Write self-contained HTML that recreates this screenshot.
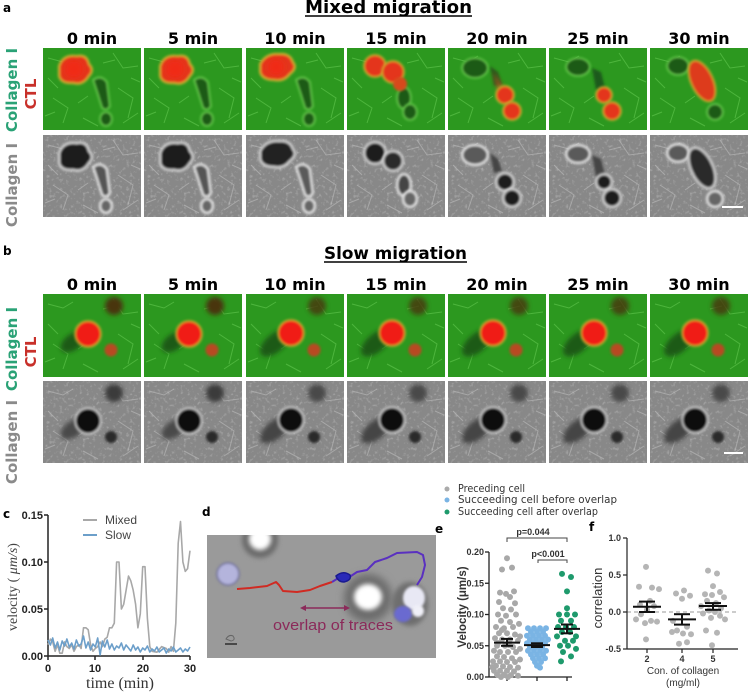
<!DOCTYPE html>
<html><head><meta charset="utf-8"><style>
html,body{margin:0;padding:0;background:#fff;}
svg{display:block;}
.t{font-family:"DejaVu Sans","Liberation Sans",sans-serif;font-weight:bold;}
.s{font-family:"Liberation Sans",sans-serif;}
.sf{font-family:"Liberation Serif",serif;}
</style></head><body>
<svg width="748" height="692" viewBox="0 0 748 692" xmlns="http://www.w3.org/2000/svg" xmlns:xlink="http://www.w3.org/1999/xlink">
<defs>
<filter id="b1" x="-50%" y="-50%" width="200%" height="200%"><feGaussianBlur stdDeviation="1.2"/></filter>
<filter id="b2" x="-50%" y="-50%" width="200%" height="200%"><feGaussianBlur stdDeviation="2.5"/></filter>
<filter id="b4" x="-50%" y="-50%" width="200%" height="200%"><feGaussianBlur stdDeviation="4"/></filter>
<filter id="nz" x="0" y="0" width="100%" height="100%"><feTurbulence type="fractalNoise" baseFrequency="0.3" numOctaves="2" seed="5"/><feColorMatrix type="matrix" values="0 0 0 0 1  0 0 0 0 1  0 0 0 0 1  0 0 0 2.2 -1.2"/></filter>
<g id="gf" fill="none" stroke="#5cc24a" stroke-width="1" opacity="0.7">
<path d="M5 10 L20 14 L30 8"/><path d="M70 5 L80 20 L95 18"/><path d="M10 50 L25 60 L20 75"/><path d="M40 70 L55 78"/><path d="M75 40 L90 50 L85 70"/><path d="M5 30 L15 40"/><path d="M60 15 L72 12"/><path d="M35 55 L45 48"/><path d="M80 75 L95 65"/><path d="M2 68 L12 64"/><path d="M88 30 L97 34"/>
</g>
<g id="wf">
<rect width="98" height="83" filter="url(#nz)" opacity="0.35"/>
<g fill="none" stroke="#bdbdbd" stroke-width="1" opacity="0.6">
<path d="M5 10 L20 14 L30 8"/><path d="M70 5 L80 20 L95 18"/><path d="M10 50 L25 60 L20 75"/><path d="M40 70 L55 78"/><path d="M75 40 L90 50 L85 70"/><path d="M5 30 L15 40"/><path d="M60 15 L72 12"/><path d="M35 55 L45 48"/><path d="M80 75 L95 65"/><path d="M2 68 L12 64"/><path d="M88 30 L97 34"/>
</g>
</g>
<g id="gm0">
<path d="M50 32 Q58 26 64 34 L67 58 Q64 64 59 60 L54 44 Z" fill="#1b5a18" stroke="#6ad050" stroke-width="1.5" filter="url(#b1)"/>
<ellipse cx="63" cy="71" rx="6" ry="7" fill="#1b5a18" stroke="#6ad050" stroke-width="1.5" filter="url(#b1)"/>
<path d="M16 18 Q20 6 34 8 Q44 6 46 16 Q52 22 46 28 Q40 38 30 35 Q18 36 16 28 Z" fill="#e4361c" stroke="#d4b030" stroke-width="2" filter="url(#b1)"/>
<circle cx="31" cy="21" r="9" fill="#f02a18" filter="url(#b2)"/>
</g>
<g id="gm10">
<path d="M50 32 Q58 26 64 34 L67 58 Q64 64 59 60 L54 44 Z" fill="#1b5a18" stroke="#6ad050" stroke-width="1.5" filter="url(#b1)"/>
<ellipse cx="63" cy="71" rx="6" ry="7" fill="#1b5a18" stroke="#6ad050" stroke-width="1.5" filter="url(#b1)"/>
<path d="M14 16 Q20 5 33 6 Q44 5 47 14 Q52 20 44 26 Q38 34 28 32 Q16 32 14 24 Z" fill="#e4361c" stroke="#d4b030" stroke-width="2" filter="url(#b1)"/>
<circle cx="30" cy="19" r="8" fill="#f02a18" filter="url(#b2)"/>
</g>
<g id="gm15">
<ellipse cx="57" cy="50" rx="7" ry="11" fill="#1b5a18" stroke="#6ad050" stroke-width="1.5" filter="url(#b1)"/>
<ellipse cx="63" cy="64" rx="7" ry="8" fill="#1b5a18" stroke="#6ad050" stroke-width="1.5" filter="url(#b1)"/>
<circle cx="28" cy="18" r="11" fill="#e4361c" stroke="#d4b030" stroke-width="1.5" filter="url(#b1)"/>
<circle cx="46" cy="24" r="11" fill="#e4361c" stroke="#d4b030" stroke-width="1.5" filter="url(#b1)"/>
<circle cx="53" cy="36" r="7" fill="#d8481e" filter="url(#b1)"/>
</g>
<g id="gm20">
<ellipse cx="27" cy="20" rx="13" ry="10" fill="#1b5a18" stroke="#6ad050" stroke-width="1.5" filter="url(#b1)"/>
<path d="M42 18 L50 24 L54 36 L46 38 Z" fill="#2a5a1c" filter="url(#b1)"/>
<path d="M45 24 L56 40 L50 44 Z" fill="#b85020" opacity="0.8" filter="url(#b2)"/>
<circle cx="57" cy="47" r="9" fill="#e4361c" stroke="#d4b030" stroke-width="1.5" filter="url(#b1)"/>
<circle cx="64" cy="63" r="9" fill="#e4361c" stroke="#d4b030" stroke-width="1.5" filter="url(#b1)"/>
</g>
<g id="gm25">
<ellipse cx="29" cy="19" rx="12" ry="9" fill="#1b5a18" stroke="#6ad050" stroke-width="1.5" filter="url(#b1)"/>
<path d="M43 20 L52 24 L56 40 L47 42 Z" fill="#1f5a1a" filter="url(#b1)"/>
<circle cx="55" cy="47" r="8" fill="#e4361c" stroke="#d4b030" stroke-width="1.5" filter="url(#b1)"/>
<circle cx="63" cy="63" r="9" fill="#e4361c" stroke="#d4b030" stroke-width="1.5" filter="url(#b1)"/>
</g>
<g id="gm30">
<ellipse cx="28" cy="18" rx="11" ry="9" fill="#1b5a18" stroke="#6ad050" stroke-width="1.5" filter="url(#b1)"/>
<ellipse cx="52" cy="33" rx="11" ry="22" transform="rotate(-25 52 33)" fill="#dd3a1c" stroke="#d4b030" stroke-width="1.5" filter="url(#b1)"/>
<ellipse cx="65" cy="64" rx="8" ry="8" fill="#1b5a18" stroke="#6ad050" stroke-width="1.5" filter="url(#b1)"/>
</g>
<g id="wm0">
<path d="M50 32 Q58 26 64 34 L67 58 Q64 64 59 60 L54 44 Z" fill="#555" stroke="#eee" stroke-width="2" filter="url(#b1)"/>
<ellipse cx="63" cy="71" rx="6" ry="7" fill="#666" stroke="#eee" stroke-width="2" filter="url(#b1)"/>
<path d="M16 18 Q20 6 34 8 Q44 6 46 16 Q52 22 46 28 Q40 38 30 35 Q18 36 16 28 Z" fill="#1e1e1e" stroke="#ddd" stroke-width="2" filter="url(#b1)"/>
</g>
<g id="wm10">
<path d="M50 32 Q58 26 64 34 L67 58 Q64 64 59 60 L54 44 Z" fill="#5a5a5a" stroke="#eee" stroke-width="2" filter="url(#b1)"/>
<ellipse cx="63" cy="71" rx="6" ry="7" fill="#666" stroke="#eee" stroke-width="2" filter="url(#b1)"/>
<path d="M14 16 Q20 5 33 6 Q44 5 47 14 Q52 20 44 26 Q38 34 28 32 Q16 32 14 24 Z" fill="#222" stroke="#ddd" stroke-width="2" filter="url(#b1)"/>
</g>
<g id="wm15">
<ellipse cx="57" cy="50" rx="7" ry="11" fill="#444" stroke="#eee" stroke-width="2" filter="url(#b1)"/>
<ellipse cx="63" cy="64" rx="7" ry="8" fill="#666" stroke="#eee" stroke-width="2" filter="url(#b1)"/>
<circle cx="28" cy="18" r="11" fill="#1e1e1e" stroke="#ddd" stroke-width="2" filter="url(#b1)"/>
<circle cx="46" cy="26" r="10" fill="#2a2a2a" stroke="#ddd" stroke-width="2" filter="url(#b1)"/>
</g>
<g id="wm20">
<ellipse cx="27" cy="20" rx="13" ry="10" fill="#5a5a5a" stroke="#eee" stroke-width="2" filter="url(#b1)"/>
<path d="M42 18 L50 24 L54 36 L46 38 Z" fill="#444" filter="url(#b1)"/>
<circle cx="57" cy="47" r="9" fill="#1a1a1a" stroke="#ddd" stroke-width="2" filter="url(#b1)"/>
<circle cx="64" cy="63" r="9" fill="#1a1a1a" stroke="#ddd" stroke-width="2" filter="url(#b1)"/>
</g>
<g id="wm25">
<ellipse cx="29" cy="19" rx="12" ry="9" fill="#5a5a5a" stroke="#eee" stroke-width="2" filter="url(#b1)"/>
<path d="M43 20 L52 24 L56 40 L47 42 Z" fill="#444" filter="url(#b1)"/>
<circle cx="55" cy="47" r="8" fill="#1a1a1a" stroke="#ddd" stroke-width="2" filter="url(#b1)"/>
<circle cx="63" cy="63" r="9" fill="#1a1a1a" stroke="#ddd" stroke-width="2" filter="url(#b1)"/>
</g>
<g id="wm30">
<ellipse cx="28" cy="18" rx="11" ry="9" fill="#5a5a5a" stroke="#eee" stroke-width="2" filter="url(#b1)"/>
<ellipse cx="52" cy="33" rx="11" ry="22" transform="rotate(-25 52 33)" fill="#2a2a2a" stroke="#ddd" stroke-width="2" filter="url(#b1)"/>
<ellipse cx="65" cy="64" rx="8" ry="8" fill="#666" stroke="#eee" stroke-width="2" filter="url(#b1)"/>
</g>
<g id="gs0">
<circle cx="71" cy="12" r="9" fill="#4a3510" filter="url(#b2)"/>
<ellipse cx="30" cy="48" rx="14" ry="8" transform="rotate(-35 30 48)" fill="#1b5a18" filter="url(#b2)"/>
<circle cx="45" cy="40" r="13" fill="#f01e14" stroke="#c8b030" stroke-width="1.5" filter="url(#b1)"/>
<circle cx="68" cy="56" r="6.5" fill="#b84a20" filter="url(#b1)"/>
</g>
<g id="gs1">
<circle cx="71" cy="12" r="9" fill="#4a3510" opacity="0.8" filter="url(#b2)"/>
<ellipse cx="29" cy="49" rx="18" ry="9" transform="rotate(-40 29 49)" fill="#1b5a18" filter="url(#b2)"/>
<circle cx="45" cy="39" r="13" fill="#f01e14" stroke="#c8b030" stroke-width="1.5" filter="url(#b1)"/>
<circle cx="68" cy="56" r="6.5" fill="#b84a20" filter="url(#b1)"/>
</g>
<g id="ws0">
<circle cx="71" cy="12" r="9" fill="#3a3a3a" filter="url(#b2)"/>
<ellipse cx="30" cy="48" rx="14" ry="8" transform="rotate(-35 30 48)" fill="#4a4a4a" filter="url(#b2)"/>
<circle cx="45" cy="40" r="13" fill="#0e0e0e" stroke="#ddd" stroke-width="1.5" filter="url(#b1)"/>
<circle cx="68" cy="56" r="6" fill="#2a2a2a" filter="url(#b1)"/>
</g>
<g id="ws1">
<circle cx="71" cy="12" r="9" fill="#4a4a4a" filter="url(#b2)"/>
<ellipse cx="29" cy="49" rx="18" ry="9" transform="rotate(-40 29 49)" fill="#444" filter="url(#b2)"/>
<circle cx="45" cy="39" r="13" fill="#0e0e0e" stroke="#ddd" stroke-width="1.5" filter="url(#b1)"/>
<circle cx="68" cy="56" r="6" fill="#2a2a2a" filter="url(#b1)"/>
</g>
</defs>

<!-- ===== Panel a ===== -->
<text x="3" y="12" class="t" font-size="12">a</text>
<text x="305" y="13" class="t" font-size="18" textLength="167" lengthAdjust="spacingAndGlyphs">Mixed migration</text>
<line x1="305" y1="16" x2="472" y2="16" stroke="#000" stroke-width="1.5"/>
<g class="t" font-size="16" text-anchor="middle">
<text x="92" y="44">0 min</text><text x="193" y="44">5 min</text><text x="295" y="44">10 min</text><text x="396" y="44">15 min</text><text x="497" y="44">20 min</text><text x="598" y="44">25 min</text><text x="699" y="44">30 min</text>
</g>
<g class="t" font-size="15" text-anchor="middle">
<text transform="translate(17,90) rotate(-90)" fill="#2aa276">Collagen I</text>
<text transform="translate(36,94) rotate(-90)" fill="#c8302a">CTL</text>
<text transform="translate(17,185) rotate(-90)" fill="#8a8a8a">Collagen I</text>
</g>
<svg x="43" y="48" width="98" height="82" viewBox="0 0 98 82"><rect width="98" height="82" fill="#2c981f"/><use href="#gf"/><use href="#gm0"/></svg>
<svg x="144" y="48" width="98" height="82" viewBox="0 0 98 82"><rect width="98" height="82" fill="#2c981f"/><use href="#gf"/><use href="#gm0"/></svg>
<svg x="246" y="48" width="98" height="82" viewBox="0 0 98 82"><rect width="98" height="82" fill="#2c981f"/><use href="#gf"/><use href="#gm10"/></svg>
<svg x="347" y="48" width="98" height="82" viewBox="0 0 98 82"><rect width="98" height="82" fill="#2c981f"/><use href="#gf"/><use href="#gm15"/></svg>
<svg x="448" y="48" width="98" height="82" viewBox="0 0 98 82"><rect width="98" height="82" fill="#2c981f"/><use href="#gf"/><use href="#gm20"/></svg>
<svg x="549" y="48" width="98" height="82" viewBox="0 0 98 82"><rect width="98" height="82" fill="#2c981f"/><use href="#gf"/><use href="#gm25"/></svg>
<svg x="650" y="48" width="98" height="82" viewBox="0 0 98 82"><rect width="98" height="82" fill="#2c981f"/><use href="#gf"/><use href="#gm30"/></svg>
<svg x="43" y="135" width="98" height="82" viewBox="0 0 98 82"><rect width="98" height="82" fill="#888"/><use href="#wf"/><use href="#wm0"/></svg>
<svg x="144" y="135" width="98" height="82" viewBox="0 0 98 82"><rect width="98" height="82" fill="#888"/><use href="#wf"/><use href="#wm0"/></svg>
<svg x="246" y="135" width="98" height="82" viewBox="0 0 98 82"><rect width="98" height="82" fill="#888"/><use href="#wf"/><use href="#wm10"/></svg>
<svg x="347" y="135" width="98" height="82" viewBox="0 0 98 82"><rect width="98" height="82" fill="#888"/><use href="#wf"/><use href="#wm15"/></svg>
<svg x="448" y="135" width="98" height="82" viewBox="0 0 98 82"><rect width="98" height="82" fill="#888"/><use href="#wf"/><use href="#wm20"/></svg>
<svg x="549" y="135" width="98" height="82" viewBox="0 0 98 82"><rect width="98" height="82" fill="#888"/><use href="#wf"/><use href="#wm25"/></svg>
<svg x="650" y="135" width="98" height="82" viewBox="0 0 98 82"><rect width="98" height="82" fill="#888"/><use href="#wf"/><use href="#wm30"/></svg>
<line x1="722" y1="207" x2="743" y2="207" stroke="#fff" stroke-width="2"/>

<!-- ===== Panel b ===== -->
<text x="3" y="255" class="t" font-size="12">b</text>
<text x="324" y="259" class="t" font-size="17" textLength="143" lengthAdjust="spacingAndGlyphs">Slow migration</text>
<line x1="324" y1="262" x2="467" y2="262" stroke="#000" stroke-width="1.5"/>
<g class="t" font-size="16" text-anchor="middle">
<text x="92" y="290">0 min</text><text x="193" y="290">5 min</text><text x="295" y="290">10 min</text><text x="396" y="290">15 min</text><text x="497" y="290">20 min</text><text x="598" y="290">25 min</text><text x="699" y="290">30 min</text>
</g>
<g class="t" font-size="15" text-anchor="middle">
<text transform="translate(17,349) rotate(-90)" fill="#2aa276">Collagen I</text>
<text transform="translate(36,352) rotate(-90)" fill="#c8302a">CTL</text>
<text transform="translate(17,442) rotate(-90)" fill="#8a8a8a">Collagen I</text>
</g>
<svg x="43" y="294" width="98" height="83" viewBox="0 0 98 83"><rect width="98" height="83" fill="#2c981f"/><use href="#gf"/><use href="#gs0"/></svg>
<svg x="144" y="294" width="98" height="83" viewBox="0 0 98 83"><rect width="98" height="83" fill="#2c981f"/><use href="#gf"/><use href="#gs0"/></svg>
<svg x="246" y="294" width="98" height="83" viewBox="0 0 98 83"><rect width="98" height="83" fill="#2c981f"/><use href="#gf"/><use href="#gs1"/></svg>
<svg x="347" y="294" width="98" height="83" viewBox="0 0 98 83"><rect width="98" height="83" fill="#2c981f"/><use href="#gf"/><use href="#gs1"/></svg>
<svg x="448" y="294" width="98" height="83" viewBox="0 0 98 83"><rect width="98" height="83" fill="#2c981f"/><use href="#gf"/><use href="#gs1"/></svg>
<svg x="549" y="294" width="98" height="83" viewBox="0 0 98 83"><rect width="98" height="83" fill="#2c981f"/><use href="#gf"/><use href="#gs1"/></svg>
<svg x="650" y="294" width="98" height="83" viewBox="0 0 98 83"><rect width="98" height="83" fill="#2c981f"/><use href="#gf"/><use href="#gs1"/></svg>
<svg x="43" y="381" width="98" height="82" viewBox="0 0 98 82"><rect width="98" height="82" fill="#888"/><use href="#wf"/><use href="#ws0"/></svg>
<svg x="144" y="381" width="98" height="82" viewBox="0 0 98 82"><rect width="98" height="82" fill="#888"/><use href="#wf"/><use href="#ws0"/></svg>
<svg x="246" y="381" width="98" height="82" viewBox="0 0 98 82"><rect width="98" height="82" fill="#888"/><use href="#wf"/><use href="#ws1"/></svg>
<svg x="347" y="381" width="98" height="82" viewBox="0 0 98 82"><rect width="98" height="82" fill="#888"/><use href="#wf"/><use href="#ws1"/></svg>
<svg x="448" y="381" width="98" height="82" viewBox="0 0 98 82"><rect width="98" height="82" fill="#888"/><use href="#wf"/><use href="#ws1"/></svg>
<svg x="549" y="381" width="98" height="82" viewBox="0 0 98 82"><rect width="98" height="82" fill="#888"/><use href="#wf"/><use href="#ws1"/></svg>
<svg x="650" y="381" width="98" height="82" viewBox="0 0 98 82"><rect width="98" height="82" fill="#888"/><use href="#wf"/><use href="#ws1"/></svg>
<line x1="724" y1="453" x2="743" y2="453" stroke="#fff" stroke-width="2"/>

<!-- ===== Panel c ===== -->
<text x="3" y="518" class="t" font-size="12">c</text>
<g stroke="#222" stroke-width="1.5" fill="none">
<line x1="48" y1="515" x2="48" y2="656"/>
<line x1="48" y1="656" x2="190" y2="656"/>
<line x1="44" y1="515" x2="48" y2="515"/><line x1="44" y1="562" x2="48" y2="562"/><line x1="44" y1="609" x2="48" y2="609"/><line x1="44" y1="656" x2="48" y2="656"/>
<line x1="48" y1="656" x2="48" y2="660"/><line x1="95" y1="656" x2="95" y2="660"/><line x1="143" y1="656" x2="143" y2="660"/><line x1="190" y1="656" x2="190" y2="660"/>
</g>
<g class="s" font-size="11" font-weight="bold" fill="#222" text-anchor="end">
<text x="43" y="519">0.15</text><text x="43" y="566">0.10</text><text x="43" y="613">0.05</text><text x="43" y="660">0.00</text>
</g>
<g class="s" font-size="11" font-weight="bold" fill="#222" text-anchor="middle">
<text x="48" y="672">0</text><text x="95" y="672">10</text><text x="143" y="672">20</text><text x="190" y="672">30</text>
</g>
<text x="120" y="688" class="sf" font-size="16" text-anchor="middle" fill="#333">time (min)</text>
<text transform="translate(17,587) rotate(-90)" class="sf" font-size="14" text-anchor="middle" fill="#444">velocity ( <tspan font-style="italic">μm/s</tspan>)</text>
<line x1="83" y1="520" x2="97" y2="520" stroke="#a8a8a8" stroke-width="2"/>
<text x="105" y="524" class="s" font-size="12" fill="#444">Mixed</text>
<line x1="83" y1="535" x2="97" y2="535" stroke="#6c9fca" stroke-width="2"/>
<text x="105" y="539" class="s" font-size="12" fill="#444">Slow</text>
<polyline fill="none" stroke="#a8a8a8" stroke-width="1.6" stroke-linejoin="round" points="48,644.7 50.4,639.1 52.7,641.9 55.1,651.3 57.5,644.7 59.8,653.2 62.2,653.2 64.6,641.9 66.9,646.6 69.3,648.5 71.7,644.7 74,651.3 76.4,646.6 78.8,644.7 81.1,648.5 83.5,627.8 85.9,627.8 88.2,629.7 90.6,644.7 93,651.3 95.3,648.5 97.7,646.6 100.1,641.9 102.4,646.6 104.8,639.1 107.2,637.2 109.5,627.8 111.9,627.8 114.3,623.1 116.6,562 119,562 121.4,609 123.7,604.3 126.1,590.2 128.5,576.1 130.8,580.8 133.2,590.2 135.6,604.3 137.9,627.8 140.3,613.7 142.7,566.7 145,566.7 147.4,618.4 149.8,646.6 152.1,651.3 156.9,652.2 161.6,646.6 166.3,648.5 168.7,652.2 171.1,646.6 173.4,651.3 175.8,623.1 178.2,543.2 180.5,521.6 182.9,562 185.3,571.4 187.6,568.6 190,550.7"/>
<polyline fill="none" stroke="#6c9fca" stroke-width="1.6" stroke-linejoin="round" points="48,640 50.4,645 52.7,638 55.1,648 57.5,642 59.8,650 62.2,641 64.6,646 66.9,639 69.3,647 71.7,643 74,649 76.4,640 78.8,646 81.1,644 83.5,636 85.9,648 88.2,642 90.6,650 93,644 95.3,647 97.7,638 100.1,655 102.4,641 104.8,647 107.2,640 109.5,649 111.9,644 114.3,650 116.6,646 119,648 121.4,643 123.7,650 126.1,645 128.5,648 130.8,651 133.2,645 135.6,650 137.9,647 140.3,652 142.7,648 145,650 147.4,646 149.8,652 152.1,649 154.5,651 156.9,647 159.2,652 161.6,650 164,648 166.3,653 168.7,649 171.1,651 173.4,647 175.8,652 178.2,650 180.5,648 182.9,652 185.3,649 187.6,651 190,647"/>

<!-- ===== Panel d ===== -->
<text x="202" y="516" class="t" font-size="12">d</text>
<svg x="207" y="535" width="229" height="123" viewBox="207 535 229 123">
<rect x="207" y="535" width="229" height="123" fill="#9a9a9a"/>
<circle cx="260" cy="540" r="18" fill="#6a6a6a" filter="url(#b2)"/>
<circle cx="260" cy="539" r="11" fill="#fff" filter="url(#b2)"/>
<circle cx="228" cy="574" r="11" fill="#b4b4dc" stroke="#6a6a9a" stroke-width="1.5" filter="url(#b1)"/>
<circle cx="368" cy="598" r="24" fill="#6c6c6c" filter="url(#b4)"/>
<ellipse cx="368" cy="597" rx="14" ry="13" fill="#fff" filter="url(#b2)"/>
<ellipse cx="410" cy="604" rx="18" ry="22" fill="#6e6e6e" filter="url(#b2)"/>
<ellipse cx="414" cy="598" rx="11" ry="12" fill="#e8e8f4" filter="url(#b1)"/>
<ellipse cx="403" cy="614" rx="9" ry="8" fill="#6a6ad0" filter="url(#b1)"/>
<ellipse cx="418" cy="611" rx="6" ry="6" fill="#f0f0f8" filter="url(#b1)"/>
<polyline fill="none" stroke="#d02a22" stroke-width="2" stroke-linejoin="round" points="237,589 250,588 267,586 276,582 279,585 283,591 297,592 310,590 320,586 332,582"/>
<polyline fill="none" stroke="#5a30c0" stroke-width="2" stroke-linejoin="round" points="332,582 340,577 348,578 357,572 367,570 375,562 387,558 397,553 417,552 423,555 425,565 422,577 417,585"/>
<path d="M336 576 Q343 570 350 575 Q352 580 344 582 Q338 582 336 576 Z" fill="#2a2ab8" stroke="#1a1a90" stroke-width="1.5"/>
<line x1="303" y1="608" x2="347" y2="608" stroke="#8b2a5a" stroke-width="1.5"/>
<polygon points="300,608 306,605 306,611" fill="#8b2a5a"/>
<polygon points="350,608 344,605 344,611" fill="#8b2a5a"/>
<text x="273" y="630" class="s" font-size="15" fill="#8b2a5a" textLength="120" lengthAdjust="spacingAndGlyphs">overlap of traces</text>
<path d="M226 639 Q229 634 233 636 Q236 640 231 641 Z" fill="none" stroke="#666" stroke-width="1"/>
<line x1="225" y1="644" x2="237" y2="644" stroke="#111" stroke-width="1.2"/>
</svg>

<!-- ===== Panel e ===== -->
<circle cx="447" cy="489" r="2.5" fill="#aaa"/>
<circle cx="447" cy="500" r="2.5" fill="#7ab4e4"/>
<circle cx="447" cy="512" r="2.5" fill="#1e9a6c"/>
<g font-family="'DejaVu Sans Condensed','DejaVu Sans',sans-serif" font-size="10.5" fill="#333">
<text x="458" y="492" textLength="67" lengthAdjust="spacingAndGlyphs">Preceding cell</text>
<text x="458" y="503" textLength="159" lengthAdjust="spacingAndGlyphs">Succeeding cell before overlap</text>
<text x="458" y="515" textLength="140" lengthAdjust="spacingAndGlyphs">Succeeding cell after overlap</text>
</g>
<text x="435" y="533" class="t" font-size="12">e</text>
<g stroke="#222" stroke-width="1.3" fill="none">
<line x1="489" y1="552" x2="489" y2="677"/>
<line x1="489" y1="677" x2="572" y2="677"/>
<line x1="485" y1="552" x2="489" y2="552"/><line x1="485" y1="583.25" x2="489" y2="583.25"/><line x1="485" y1="614.5" x2="489" y2="614.5"/><line x1="485" y1="645.75" x2="489" y2="645.75"/><line x1="485" y1="677" x2="489" y2="677"/>
<line x1="507" y1="677" x2="507" y2="681"/><line x1="537" y1="677" x2="537" y2="681"/><line x1="567" y1="677" x2="567" y2="681"/>
<path d="M507 542 L507 538 L567 538 L567 542" stroke="#444" stroke-width="1"/>
<path d="M538 563 L538 560 L567 560 L567 563" stroke="#444" stroke-width="1"/>
</g>
<g class="s" font-size="9" font-weight="bold" fill="#333" text-anchor="end">
<text x="484" y="555">0.20</text><text x="484" y="586.5">0.15</text><text x="484" y="617.5">0.10</text><text x="484" y="649">0.05</text><text x="484" y="680">0.00</text>
</g>
<text x="533" y="535" class="s" font-size="9" font-weight="bold" fill="#333" text-anchor="middle">p=0.044</text>
<text x="548" y="557" class="s" font-size="9" font-weight="bold" fill="#333" text-anchor="middle">p&lt;0.001</text>
<text transform="translate(466,607) rotate(-90)" class="s" font-size="11.5" font-weight="bold" fill="#333" text-anchor="middle">Velocity (μm/s)</text>
<g fill="#a8a8a8">
<circle cx="507" cy="558.3" r="3"/><circle cx="502" cy="569.5" r="3"/><circle cx="512" cy="567.6" r="3"/><circle cx="500" cy="592.6" r="3"/><circle cx="506" cy="593.9" r="3"/><circle cx="514" cy="591.4" r="3"/><circle cx="510" cy="597" r="3"/><circle cx="499" cy="602" r="3"/><circle cx="515" cy="603.3" r="3"/><circle cx="503" cy="608.3" r="3"/><circle cx="511" cy="609.5" r="3"/><circle cx="498" cy="614.5" r="3"/><circle cx="506" cy="615.8" r="3"/><circle cx="516" cy="614.5" r="3"/><circle cx="501" cy="620.8" r="3"/><circle cx="510" cy="622" r="3"/><circle cx="496" cy="627" r="3"/><circle cx="504" cy="628.3" r="3"/><circle cx="513" cy="627" r="3"/><circle cx="499" cy="633.3" r="3"/><circle cx="507" cy="633.3" r="3"/><circle cx="515" cy="634.5" r="3"/><circle cx="495" cy="638.3" r="3"/><circle cx="502" cy="639.5" r="3"/><circle cx="510" cy="639.5" r="3"/><circle cx="518" cy="640.8" r="3"/><circle cx="497" cy="645.8" r="3"/><circle cx="505" cy="645.8" r="3"/><circle cx="513" cy="647" r="3"/><circle cx="494" cy="650.8" r="3"/><circle cx="500" cy="652" r="3"/><circle cx="508" cy="652" r="3"/><circle cx="516" cy="652" r="3"/><circle cx="497" cy="656.4" r="3"/><circle cx="504" cy="657" r="3"/><circle cx="512" cy="658.3" r="3"/><circle cx="493" cy="661.4" r="3"/><circle cx="500" cy="661.4" r="3"/><circle cx="507" cy="662" r="3"/><circle cx="515" cy="662" r="3"/><circle cx="496" cy="665.8" r="3"/><circle cx="503" cy="666.4" r="3"/><circle cx="510" cy="667" r="3"/><circle cx="518" cy="667.6" r="3"/><circle cx="494" cy="670.8" r="3"/><circle cx="500" cy="670.8" r="3"/><circle cx="507" cy="670.8" r="3"/><circle cx="514" cy="671.4" r="3"/><circle cx="497" cy="674.5" r="3"/><circle cx="504" cy="674.5" r="3"/><circle cx="511" cy="675.1" r="3"/><circle cx="518" cy="675.8" r="3"/><circle cx="501" cy="677" r="3"/><circle cx="508" cy="677" r="3"/><circle cx="520" cy="659.5" r="3"/><circle cx="520" cy="648.9" r="3"/><circle cx="520" cy="636.4" r="3"/><circle cx="519" cy="623.9" r="3"/><circle cx="492" cy="667" r="3"/><circle cx="498" cy="643" r="3"/><circle cx="509" cy="645" r="3"/><circle cx="502" cy="630" r="3"/>
</g>
<g fill="#7ab4e4">
<circle cx="528" cy="628.3" r="3"/><circle cx="534" cy="628.3" r="3"/><circle cx="540" cy="628.3" r="3"/><circle cx="546" cy="628.3" r="3"/><circle cx="531" cy="632" r="3"/><circle cx="537" cy="632" r="3"/><circle cx="543" cy="632" r="3"/><circle cx="527" cy="635.8" r="3"/><circle cx="533" cy="635.8" r="3"/><circle cx="539" cy="635.8" r="3"/><circle cx="545" cy="635.8" r="3"/><circle cx="530" cy="639.5" r="3"/><circle cx="536" cy="639.5" r="3"/><circle cx="542" cy="639.5" r="3"/><circle cx="548" cy="639.5" r="3"/><circle cx="527" cy="643.3" r="3"/><circle cx="533" cy="643.3" r="3"/><circle cx="539" cy="643.3" r="3"/><circle cx="545" cy="643.3" r="3"/><circle cx="530" cy="647" r="3"/><circle cx="536" cy="647" r="3"/><circle cx="542" cy="647" r="3"/><circle cx="528" cy="650.8" r="3"/><circle cx="534" cy="650.8" r="3"/><circle cx="540" cy="650.8" r="3"/><circle cx="546" cy="650.8" r="3"/><circle cx="531" cy="654.5" r="3"/><circle cx="537" cy="654.5" r="3"/><circle cx="543" cy="654.5" r="3"/><circle cx="533" cy="658.3" r="3"/><circle cx="539" cy="658.3" r="3"/><circle cx="545" cy="658.3" r="3"/><circle cx="535" cy="662" r="3"/><circle cx="541" cy="662" r="3"/><circle cx="537" cy="665.8" r="3"/><circle cx="540" cy="667.6" r="3"/>
</g>
<g fill="#1e9a6c">
<circle cx="562" cy="573.9" r="3"/><circle cx="571" cy="577" r="3"/><circle cx="567" cy="591.4" r="3"/><circle cx="567" cy="608.3" r="3"/><circle cx="559" cy="614.5" r="3"/><circle cx="567" cy="614.5" r="3"/><circle cx="575" cy="614.5" r="3"/><circle cx="561" cy="620.8" r="3"/><circle cx="571" cy="620.8" r="3"/><circle cx="558" cy="627" r="3"/><circle cx="566" cy="627" r="3"/><circle cx="574" cy="627" r="3"/><circle cx="562" cy="632" r="3"/><circle cx="570" cy="632" r="3"/><circle cx="557" cy="636.4" r="3"/><circle cx="576" cy="636.4" r="3"/><circle cx="565" cy="640.8" r="3"/><circle cx="573" cy="640.8" r="3"/><circle cx="560" cy="645.8" r="3"/><circle cx="568" cy="645.8" r="3"/><circle cx="576" cy="648.9" r="3"/><circle cx="563" cy="652" r="3"/><circle cx="571" cy="656.4" r="3"/><circle cx="561" cy="661.4" r="3"/>
</g>
<g stroke="#111" stroke-width="2" fill="none">
<line x1="494" y1="642.6" x2="520" y2="642.6"/><line x1="501" y1="638.9" x2="513" y2="638.9"/><line x1="501" y1="645.8" x2="513" y2="645.8"/><line x1="507" y1="638.9" x2="507" y2="645.8"/>
<line x1="524" y1="645.1" x2="550" y2="645.1"/><line x1="531" y1="643.3" x2="543" y2="643.3"/><line x1="531" y1="647" x2="543" y2="647"/>
<line x1="554" y1="628.9" x2="580" y2="628.9"/><line x1="561" y1="624.5" x2="573" y2="624.5"/><line x1="561" y1="633.3" x2="573" y2="633.3"/><line x1="567" y1="624.5" x2="567" y2="633.3"/>
</g>

<!-- ===== Panel f ===== -->
<text x="589" y="531" class="t" font-size="12">f</text>
<line x1="627" y1="612" x2="738" y2="612" stroke="#999" stroke-width="1" stroke-dasharray="4,3"/>
<g stroke="#222" stroke-width="1.2" fill="none">
<line x1="627" y1="538" x2="627" y2="649"/>
<line x1="627" y1="649" x2="738" y2="649"/>
<line x1="623" y1="538" x2="627" y2="538"/><line x1="623" y1="575" x2="627" y2="575"/><line x1="623" y1="612" x2="627" y2="612"/><line x1="623" y1="649" x2="627" y2="649"/>
<line x1="647" y1="649" x2="647" y2="653"/><line x1="682" y1="649" x2="682" y2="653"/><line x1="713" y1="649" x2="713" y2="653"/>
</g>
<g class="s" font-size="9" font-weight="bold" fill="#333" text-anchor="end">
<text x="621" y="541">1.0</text><text x="621" y="578">0.5</text><text x="621" y="615">0.0</text><text x="621" y="652">-0.5</text>
</g>
<g class="s" font-size="9" font-weight="bold" fill="#333" text-anchor="middle">
<text x="647" y="662">2</text><text x="682" y="662">4</text><text x="713" y="662">5</text>
</g>
<text x="683" y="674" class="s" font-size="10" fill="#333" text-anchor="middle">Con. of collagen</text>
<text x="683" y="686" class="s" font-size="10" fill="#333" text-anchor="middle">(mg/ml)</text>
<text transform="translate(602,598) rotate(-90)" class="s" font-size="13" fill="#333" text-anchor="middle">correlation</text>
<g fill="#b5b5b5">
<circle cx="646" cy="566.9" r="3"/><circle cx="639" cy="586.8" r="3"/><circle cx="652" cy="587.6" r="3"/><circle cx="659" cy="589.1" r="3"/><circle cx="640" cy="604.6" r="3"/><circle cx="654" cy="606.1" r="3"/><circle cx="647" cy="609.8" r="3"/><circle cx="641" cy="614.2" r="3"/><circle cx="636" cy="619.4" r="3"/><circle cx="651" cy="620.9" r="3"/><circle cx="645" cy="623.1" r="3"/><circle cx="657" cy="621.6" r="3"/><circle cx="646" cy="639.4" r="3"/><circle cx="650" cy="600.9" r="3"/>
<circle cx="684" cy="590.5" r="3"/><circle cx="676" cy="593.5" r="3"/><circle cx="690" cy="595.7" r="3"/><circle cx="682" cy="598.7" r="3"/><circle cx="673" cy="620.9" r="3"/><circle cx="687" cy="626.8" r="3"/><circle cx="677" cy="630.5" r="3"/><circle cx="683" cy="633.5" r="3"/><circle cx="691" cy="634.2" r="3"/><circle cx="672" cy="632" r="3"/><circle cx="679" cy="643.8" r="3"/><circle cx="687" cy="642.3" r="3"/>
<circle cx="708" cy="570.6" r="3"/><circle cx="717" cy="573.5" r="3"/><circle cx="713" cy="586.1" r="3"/><circle cx="720" cy="592" r="3"/><circle cx="705" cy="594.2" r="3"/><circle cx="712" cy="595" r="3"/><circle cx="724" cy="597.2" r="3"/><circle cx="707" cy="600.9" r="3"/><circle cx="716" cy="603.1" r="3"/><circle cx="701" cy="606.1" r="3"/><circle cx="721" cy="608.3" r="3"/><circle cx="709" cy="610.5" r="3"/><circle cx="715" cy="612" r="3"/><circle cx="703" cy="613.5" r="3"/><circle cx="720" cy="615.7" r="3"/><circle cx="711" cy="617.9" r="3"/><circle cx="725" cy="619.4" r="3"/><circle cx="706" cy="630.5" r="3"/><circle cx="717" cy="632.7" r="3"/><circle cx="712" cy="645.3" r="3"/>
</g>
<g stroke="#111" stroke-width="2" fill="none">
<line x1="633" y1="606.8" x2="661" y2="606.8"/><line x1="639" y1="601.6" x2="655" y2="601.6"/><line x1="639" y1="612" x2="655" y2="612"/><line x1="647" y1="601.6" x2="647" y2="612"/>
<line x1="668" y1="619.4" x2="696" y2="619.4"/><line x1="674" y1="614.2" x2="690" y2="614.2"/><line x1="674" y1="624.6" x2="690" y2="624.6"/><line x1="682" y1="614.2" x2="682" y2="624.6"/>
<line x1="699" y1="606" x2="727" y2="606"/><line x1="705" y1="603.1" x2="721" y2="603.1"/><line x1="705" y1="609.8" x2="721" y2="609.8"/><line x1="713" y1="603.1" x2="713" y2="609.8"/>
</g>
</svg>
</body></html>
